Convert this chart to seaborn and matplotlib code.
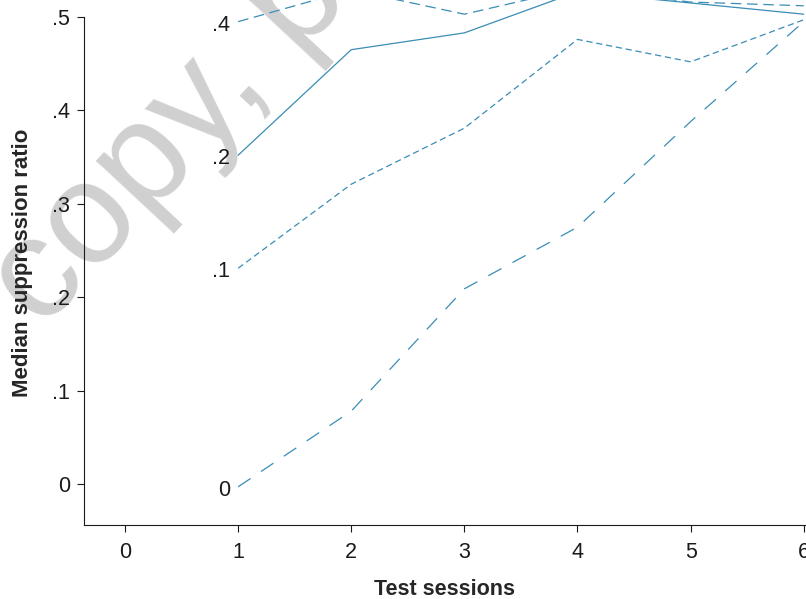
import matplotlib
matplotlib.use("Agg")
import matplotlib.pyplot as plt
import seaborn as sns
import pandas as pd

# Data
sessions = [1, 2, 3, 4, 5, 6]
ratio_04 = [0.495, 0.529, 0.503, 0.531, 0.516, 0.512]
ratio_02 = [0.352, 0.465, 0.483, 0.527, 0.515, 0.503]
ratio_01 = [0.231, 0.321, 0.381, 0.476, 0.452, 0.497]
ratio_00 = [-0.003, 0.078, 0.209, 0.275, 0.388, 0.495]
group_labels = [".4", ".2", ".1", "0"]

x_ticks = [0, 1, 2, 3, 4, 5, 6]
y_ticks = [0, 0.1, 0.2, 0.3, 0.4, 0.5]
y_tick_labels = ["0", ".1", ".2", ".3", ".4", ".5"]

df = pd.DataFrame({
    "session": sessions * 4,
    "ratio": ratio_04 + ratio_02 + ratio_01 + ratio_00,
    "group": [g for g in group_labels for _ in sessions],
})

sns.set_style("ticks")
plt.rcParams["font.family"] = ["Liberation Sans", "DejaVu Sans"]

line_color = "#3a8db5"
dash_styles = {".4": (8.5, 4.5), ".2": "", ".1": (5, 3), "0": (12, 10)}

fig = plt.figure(figsize=(8.06, 5.99), dpi=100)
ax = fig.add_axes([84 / 806, 74 / 599, 722 / 806, 525 / 599])
ax.patch.set_alpha(0)

sns.lineplot(data=df, x="session", y="ratio", style="group", dashes=dash_styles,
             color=line_color, linewidth=0.9, legend=False, estimator=None, ax=ax)

# direct labels at the start of each line
for label, vals in zip(group_labels, [ratio_04, ratio_02, ratio_01, ratio_00]):
    ax.text(0.93, vals[0] - 0.004, label, ha="right", va="center", fontsize=15.5,
            color="#1a1a1a")

ax.set_xlim(-0.3625, 6.02)
ax.set_ylim(-0.0439, 0.5182)
ax.set_xticks(x_ticks)
ax.set_yticks(y_ticks)
ax.set_yticklabels(y_tick_labels)
ax.tick_params(axis="both", labelsize=15.5, length=5, width=0.8, colors="#1a1a1a", pad=5)
ax.tick_params(axis="x", pad=7)

ax.set_xlabel("Test sessions", fontsize=15.5, fontweight="bold", labelpad=12)
ax.set_ylabel("Median suppression ratio", fontsize=16, fontweight="bold", labelpad=14)

ax.spines["top"].set_visible(False)
ax.spines["right"].set_visible(False)
ax.spines["left"].set_bounds(-0.0439, 0.5)
ax.spines["left"].set_linewidth(0.8)
ax.spines["bottom"].set_linewidth(0.8)
ax.spines["left"].set_color("#1a1a1a")
ax.spines["bottom"].set_color("#1a1a1a")

# watermark, drawn underneath the axes
fig.text(-0.043, 0.462, "copy, p", fontsize=104, color="#d0d0d0", rotation=47,
         ha="left", va="baseline", zorder=-5)

fig.savefig("out.png", dpi=100)
